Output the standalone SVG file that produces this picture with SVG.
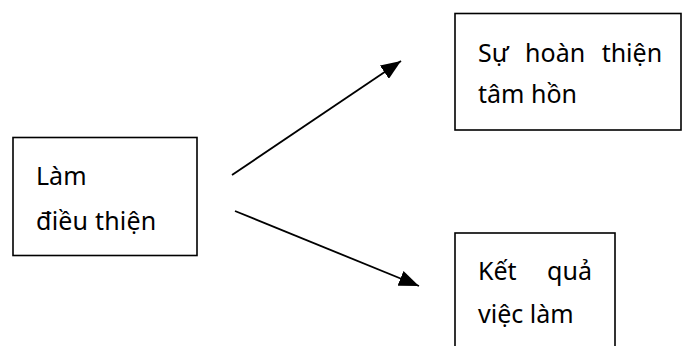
<svg xmlns="http://www.w3.org/2000/svg" width="682" height="346" viewBox="0 0 682 346">
  <defs>
    <style>
      .box { fill: #ffffff; stroke: #000000; stroke-width: 1.6; }
      .label { font-family: "Noto Sans", "Open Sans", "DejaVu Sans", sans-serif; font-size: 25px; fill: #000000; }
      .edge { stroke: #000000; stroke-width: 1.8; fill: none; }
    </style>
    <marker id="arrow" viewBox="0 0 20 16" refX="20" refY="8" markerWidth="20" markerHeight="16" markerUnits="userSpaceOnUse" orient="auto">
      <path d="M0,0 L20,8 L0,16 Z" fill="#000000"/>
    </marker>
  </defs>
  <rect width="682" height="346" fill="#ffffff"/>

  <g id="node-lam-dieu-thien">
    <rect class="box" x="13" y="137.5" width="184" height="118"/>
    <text class="label" x="36" y="185">Làm</text>
    <text class="label" x="36" y="230" letter-spacing="0.2">điều thiện</text>
  </g>

  <g id="node-su-hoan-thien">
    <rect class="box" x="455" y="13.5" width="226" height="116.5"/>
    <text class="label" x="478" y="62" word-spacing="10">Sự hoàn thiện</text>
    <text class="label" x="478" y="103">tâm hồn</text>
  </g>

  <g id="node-ket-qua">
    <rect class="box" x="455" y="233" width="160" height="130"/>
    <text class="label" x="478" y="280" word-spacing="24">Kết quả</text>
    <text class="label" x="478" y="323">việc làm</text>
  </g>

  <g id="connectors">
    <line class="edge" x1="232" y1="175" x2="401" y2="61" marker-end="url(#arrow)"/>
    <line class="edge" x1="235" y1="211" x2="419" y2="286" marker-end="url(#arrow)"/>
  </g>
</svg>
